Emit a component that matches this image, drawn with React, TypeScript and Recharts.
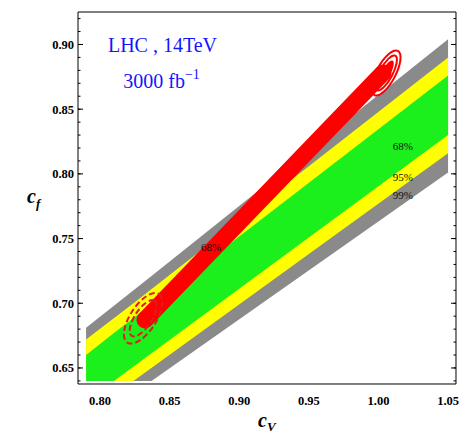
import {
  ComposedChart,
  Area,
  Line,
  Scatter,
  XAxis,
  YAxis,
} from 'recharts';

// c_V / c_f fit: allowed bands (99 / 95 / 68 %) and the 3000 fb^-1 best-fit region

const SERIF = '"Liberation Serif", "Times New Roman", serif';

const X_DOMAIN = [0.7842, 1.0557];
const Y_DOMAIN = [0.6376, 0.9251];

const X_TICKS = [0.8, 0.85, 0.9, 0.95, 1.0, 1.05];
const Y_TICKS = [0.65, 0.7, 0.75, 0.8, 0.85, 0.9];
const X_MINOR = [
  0.79, 0.8, 0.81, 0.82, 0.83, 0.84, 0.85, 0.86, 0.87, 0.88, 0.89, 0.9, 0.91, 0.92,
  0.93, 0.94, 0.95, 0.96, 0.97, 0.98, 0.99, 1.0, 1.01, 1.02, 1.03, 1.04, 1.05,
];
const Y_MINOR = [
  0.64, 0.65, 0.66, 0.67, 0.68, 0.69, 0.7, 0.71, 0.72, 0.73, 0.74, 0.75, 0.76, 0.77,
  0.78, 0.79, 0.8, 0.81, 0.82, 0.83, 0.84, 0.85, 0.86, 0.87, 0.88, 0.89, 0.9, 0.91, 0.92,
];

// band outlines: [lower, upper] c_f at each c_V corner
const band99 = [
  { x: 0.79, band: [0.64, 0.681] },
  { x: 0.837, band: [0.64, 0.721] },
  { x: 1.05, band: [0.801, 0.904] },
];
const band95 = [
  { x: 0.79, band: [0.64, 0.672] },
  { x: 0.824, band: [0.64, 0.7] },
  { x: 1.05, band: [0.816, 0.89] },
];
const band68 = [
  { x: 0.79, band: [0.64, 0.66] },
  { x: 0.81, band: [0.64, 0.677] },
  { x: 1.05, band: [0.83, 0.876] },
];

// elongated 68% region between the two fit points
const bestFit = [
  { x: 0.8323, y: 0.6871 },
  { x: 1.0033, y: 0.878 },
];

const lowPoint = [{ x: 0.831, y: 0.6884 }];
const highPoint = [{ x: 1.0055, y: 0.878 }];

const bandLabels = [
  { x: 1.0175, y: 0.8216, text: '68%' },
  { x: 1.0175, y: 0.7976, text: '95%' },
  { x: 1.0175, y: 0.7833, text: '99%' },
  { x: 0.8797, y: 0.7431, text: '68%' },
];

const titleLines = [
  { x: 0.8057, y: 0.8944, text: 'LHC , 14TeV', sup: '' },
  { x: 0.8167, y: 0.8662, text: '3000 fb', sup: '\u22121' },
];

const tickFont = { fill: '#000', fontSize: 12.5, fontWeight: 700, fontFamily: SERIF };

// tick-only axes need a non-zero thickness or they are skipped
const THIN = 0.01;
const NoLabel = () => <g />;

const DashedRings = (props: any) => {
  const { cx, cy } = props;
  return (
    <g transform={`rotate(-57 ${cx} ${cy})`}>
      <ellipse cx={cx} cy={cy} rx={29} ry={13} fill="none" stroke="#e01c22" strokeWidth={2} strokeDasharray="6 3" />
      <ellipse cx={cx} cy={cy} rx={21} ry={8.5} fill="none" stroke="#e01c22" strokeWidth={2} strokeDasharray="6 3" />
    </g>
  );
};

const SolidRings = (props: any) => {
  const { cx, cy } = props;
  return (
    <g transform={`rotate(-62 ${cx} ${cy})`}>
      <ellipse cx={cx} cy={cy} rx={25} ry={9.5} fill="none" stroke="#ff0000" strokeWidth={2} />
      <ellipse cx={cx} cy={cy} rx={19.5} ry={6.5} fill="none" stroke="#ff0000" strokeWidth={2} />
      <ellipse cx={cx} cy={cy} rx={14} ry={4.5} fill="#ff0000" />
    </g>
  );
};

const BandLabel = (props: any) => (
  <text x={props.cx} y={props.cy} textAnchor="middle" dominantBaseline="central" fontFamily={SERIF} fontSize={11} fill="#111">
    {props.payload.text}
  </text>
);

const TitleLine = (props: any) => (
  <text x={props.cx} y={props.cy} fontFamily={SERIF} fontSize={20} fill="#1414ff">
    {props.payload.text}
    {props.payload.sup && (
      <tspan dy={-9} fontSize={14}>
        {props.payload.sup}
      </tspan>
    )}
  </text>
);

const fmt = (v: number) => v.toFixed(2);

const tickAxis = { type: 'number' as const, allowDataOverflow: true, interval: 0, tick: NoLabel, stroke: '#000' };

const W = 464;
const H = 437;

export default function App() {
  return (
    <div style={{ position: 'absolute', left: 0, top: 0, width: W, height: H, overflow: 'hidden' }}>
      <ComposedChart width={W} height={H} margin={{ top: 12, right: 8, bottom: 23, left: 8 }}>
        <XAxis
          xAxisId={0}
          dataKey="x"
          type="number"
          domain={X_DOMAIN}
          allowDataOverflow
          ticks={X_TICKS}
          interval={0}
          tickFormatter={fmt}
          tickLine={false}
          axisLine={false}
          tickSize={6}
          tickMargin={6}
          tick={tickFont}
        />
        <YAxis
          yAxisId={0}
          type="number"
          domain={Y_DOMAIN}
          allowDataOverflow
          ticks={Y_TICKS}
          interval={0}
          tickFormatter={fmt}
          tickLine={false}
          axisLine={false}
          width={70}
          tickSize={2}
          tickMargin={2}
          tick={tickFont}
        />

        {/* inward tick marks and frame on all four sides */}
        <XAxis xAxisId="bMin" orientation="bottom" mirror height={THIN} domain={X_DOMAIN} ticks={X_MINOR} tickSize={2.5} {...tickAxis} />
        <XAxis xAxisId="bMaj" orientation="bottom" mirror height={THIN} domain={X_DOMAIN} ticks={X_TICKS} tickSize={5} axisLine={false} {...tickAxis} />
        <XAxis xAxisId="tMin" orientation="top" mirror height={THIN} domain={X_DOMAIN} ticks={X_MINOR} tickSize={2.5} {...tickAxis} />
        <XAxis xAxisId="tMaj" orientation="top" mirror height={THIN} domain={X_DOMAIN} ticks={X_TICKS} tickSize={5} axisLine={false} {...tickAxis} />
        <YAxis yAxisId="lMin" orientation="left" mirror width={THIN} domain={Y_DOMAIN} ticks={Y_MINOR} tickSize={2.5} {...tickAxis} />
        <YAxis yAxisId="lMaj" orientation="left" mirror width={THIN} domain={Y_DOMAIN} ticks={Y_TICKS} tickSize={5} axisLine={false} {...tickAxis} />
        <YAxis yAxisId="rMin" orientation="right" mirror width={THIN} domain={Y_DOMAIN} ticks={Y_MINOR} tickSize={2.5} {...tickAxis} />
        <YAxis yAxisId="rMaj" orientation="right" mirror width={THIN} domain={Y_DOMAIN} ticks={Y_TICKS} tickSize={5} axisLine={false} {...tickAxis} />

        <Area data={band99} dataKey="band" type="linear" stroke="none" fill="#8a8a8a" fillOpacity={1} isAnimationActive={false} />
        <Area data={band95} dataKey="band" type="linear" stroke="none" fill="#ffff00" fillOpacity={1} isAnimationActive={false} />
        <Area data={band68} dataKey="band" type="linear" stroke="none" fill="#1cf01c" fillOpacity={1} isAnimationActive={false} />

        <Line data={bestFit} dataKey="y" type="linear" stroke="#ff0000" strokeWidth={17} strokeLinecap="round" dot={false} isAnimationActive={false} />

        <Scatter data={lowPoint} dataKey="y" shape={DashedRings} isAnimationActive={false} />
        <Scatter data={highPoint} dataKey="y" shape={SolidRings} isAnimationActive={false} />
        <Scatter data={bandLabels} dataKey="y" shape={BandLabel} isAnimationActive={false} />
        <Scatter data={titleLines} dataKey="y" shape={TitleLine} isAnimationActive={false} />
      </ComposedChart>

      <svg width={W} height={H} style={{ position: 'absolute', left: 0, top: 0, pointerEvents: 'none' }}>
        <text x={27} y={203} fontFamily={SERIF} fontWeight={700} fontStyle="italic" fontSize={20} fill="#000">
          c
          <tspan dy={5} fontSize={13}>f</tspan>
        </text>
        <text x={258} y={427} fontFamily={SERIF} fontWeight={700} fontStyle="italic" fontSize={20} fill="#000">
          c
          <tspan dy={4} fontSize={13}>V</tspan>
        </text>
      </svg>
    </div>
  );
}
